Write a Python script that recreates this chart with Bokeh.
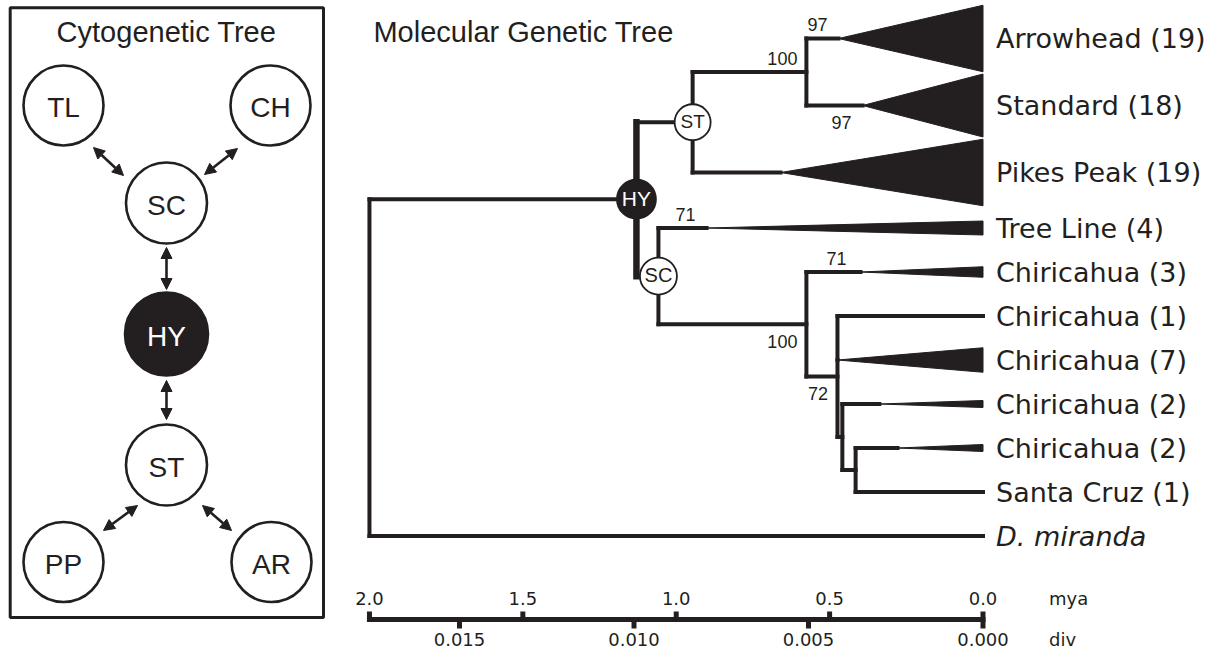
from bokeh.plotting import figure
from bokeh.models import Range1d, ColumnDataSource, Arrow, NormalHead
from bokeh.layouts import row
from bokeh.embed import file_html
from bokeh.resources import INLINE
from bokeh.core.properties import value

# ======================= DATA =======================
# --- Cytogenetic tree (left panel) ---
cyto_nodes = ["TL", "CH", "SC", "HY", "ST", "PP", "AR"]
cyto_links = [("TL", "SC"), ("CH", "SC"), ("SC", "HY"), ("HY", "ST"), ("ST", "PP"), ("ST", "AR")]
cyto_ancestral = "HY"

# --- Molecular genetic tree (right panel), tips from top to bottom ---
tip_names = ["Arrowhead (19)", "Standard (18)", "Pikes Peak (19)", "Tree Line (4)",
             "Chiricahua (3)", "Chiricahua (1)", "Chiricahua (7)", "Chiricahua (2)",
             "Chiricahua (2)", "Santa Cruz (1)", "D. miranda"]
tip_counts = [19, 18, 19, 4, 3, 1, 7, 2, 2, 1, 1]
# divergence at which each collapsed clade starts (0 = single haplotype)
tip_clade_div = [0.00414, 0.00345, 0.00580, 0.00792, 0.00351, 0.0, 0.00417, 0.00297, 0.00245, 0.0, 0.0]

node_names = ["root", "HY", "ST", "AS", "SC", "CH", "N2", "N3", "N4"]
node_div = [0.01758, 0.00993, 0.00832, 0.00506, 0.00930, 0.00506, 0.00417, 0.00403, 0.00365]
node_children = [["HY", 10], ["ST", "SC"], ["AS", 2], [0, 1], [3, "CH"], [4, "N2"],
                 [5, 6, "N3"], [7, "N4"], [8, 9]]

# bootstrap support on the branch leading to ...
boot_branch = [0, 1, "AS", 3, 4, "CH", "N2"]
boot_value = [97, 97, 100, 71, 71, 100, 72]

marked_nodes = ["HY", "ST", "SC"]

mya_ticks = [2.0, 1.5, 1.0, 0.5, 0.0]
div_ticks = [0.015, 0.010, 0.005, 0.000]
div_per_mya = 0.00879

# ======================= LAYOUT / STYLE =======================
INK = "#231f20"
SANS = value("Liberation Sans")
WIDE = value("DejaVu Sans")
H = 654
W_LEFT, W_RIGHT = 348, 866
TXT = -8          # correction for the text baseline as rendered

# left panel positions (page pixels)
cyto_x = {"TL": 63, "CH": 270, "SC": 166, "HY": 166, "ST": 166, "PP": 63, "AR": 271}
cyto_y = {"TL": 105, "CH": 105, "SC": 202.5, "HY": 333.5, "ST": 464.5, "PP": 561.5, "AR": 561.5}
cyto_r = {"TL": 40, "CH": 40, "SC": 40.5, "HY": 41.5, "ST": 40.5, "PP": 40, "AR": 40}
arrow_pts = {("TL", "SC"): (93, 147, 123, 175), ("CH", "SC"): (237, 148, 204, 174),
             ("SC", "HY"): (166, 247, 166, 289), ("HY", "ST"): (166, 380, 166, 419),
             ("ST", "PP"): (137, 505, 103, 530), ("ST", "AR"): (202, 505, 231, 530)}

# right panel scale
PX_PER_DIV = 34900.0
ZERO_PX = 982.5 - W_LEFT      # x pixel of divergence 0 inside the right figure
TOP_ROW, BIG_SLOT, SMALL_SLOT = 38, 67, 44
PX_PER_SEQ = 3.5
BAR_Y = 619

# ======================= LEFT FIGURE =======================
pl = figure(width=W_LEFT, height=H, x_range=Range1d(0, W_LEFT), y_range=Range1d(H, 0),
            output_backend="svg", toolbar_location=None, min_border=0,
            x_axis_type=None, y_axis_type=None)
pl.outline_line_color = None
pl.background_fill_color = "white"
pl.border_fill_color = "white"

pl.quad(left=[9.7], right=[323], top=[7.3], bottom=[617], fill_color=None,
        line_color=INK, line_width=3)
pl.text(x=[166], y=[39.5], text=["Cytogenetic Tree"], text_align="center", y_offset=TXT,
        text_baseline="alphabetic", text_font=SANS, text_font_size="29px", text_color=INK)

for a, b in cyto_links:
    x0, y0, x1, y1 = arrow_pts[(a, b)]
    pl.add_layout(Arrow(x_start=x0, y_start=y0, x_end=x1, y_end=y1,
                        line_color=INK, line_width=2.6,
                        start=NormalHead(size=11, fill_color=INK, line_color=INK, line_width=1),
                        end=NormalHead(size=11, fill_color=INK, line_color=INK, line_width=1)))

csrc = ColumnDataSource(dict(
    x=[cyto_x[n] for n in cyto_nodes], y=[cyto_y[n] for n in cyto_nodes],
    s=[2 * cyto_r[n] for n in cyto_nodes], t=cyto_nodes,
    fill=[INK if n == cyto_ancestral else "white" for n in cyto_nodes],
    tc=["white" if n == cyto_ancestral else INK for n in cyto_nodes]))
pl.scatter("x", "y", size="s", source=csrc, marker="circle", fill_color="fill",
           line_color=INK, line_width=2.6)
pl.text("x", "y", text="t", source=csrc, text_align="center", text_baseline="alphabetic",
        y_offset=10 + TXT, text_font=SANS, text_font_size="28px", text_color="tc")

# ======================= RIGHT FIGURE =======================
x_start = ZERO_PX / PX_PER_DIV
x_end = -(W_RIGHT - ZERO_PX) / PX_PER_DIV
pr = figure(width=W_RIGHT, height=H, x_range=Range1d(x_start, x_end), y_range=Range1d(H, 0),
            output_backend="svg", toolbar_location=None, min_border=0,
            x_axis_type=None, y_axis_type=None)
pr.outline_line_color = None
pr.background_fill_color = "white"
pr.border_fill_color = "white"

# tip rows
tip_y = []
prev = None
for n in tip_counts:
    slot = BIG_SLOT if n >= 18 else SMALL_SLOT
    tip_y.append(TOP_ROW if prev is None else tip_y[-1] + (prev + slot) / 2)
    prev = slot

nidx = {nm: i for i, nm in enumerate(node_names)}
node_y = {}


def get_y(c):
    if isinstance(c, int):
        return tip_y[c]
    if c not in node_y:
        ys = [get_y(k) for k in node_children[nidx[c]]]
        node_y[c] = (min(ys) + max(ys)) / 2
    return node_y[c]


def get_x(c):
    if isinstance(c, int):
        return tip_clade_div[c]
    return node_div[nidx[c]]


parent_of = {}
seg = dict(x0=[], y0=[], x1=[], y1=[], w=[])
for nm, kids in zip(node_names, node_children):
    nx = node_div[nidx[nm]]
    ys = [get_y(k) for k in kids]
    seg["x0"].append(nx); seg["x1"].append(nx)
    seg["y0"].append(min(ys)); seg["y1"].append(max(ys))
    seg["w"].append(6.5 if nm == "HY" else 4)
    for k in kids:
        parent_of[k] = nm
        kx = get_x(k)
        seg["x0"].append(nx); seg["x1"].append(kx)
        seg["y0"].append(get_y(k)); seg["y1"].append(get_y(k))
        seg["w"].append(4)

pr.segment("x0", "y0", "x1", "y1", source=ColumnDataSource(seg), line_color=INK,
           line_width="w", line_cap="square")

# collapsed clades
txs, tys = [], []
for i, n in enumerate(tip_counts):
    if n > 1:
        h = PX_PER_SEQ * n
        txs.append([tip_clade_div[i], 0.0, 0.0])
        tys.append([tip_y[i], tip_y[i] - h / 2, tip_y[i] + h / 2])
pr.patches(txs, tys, fill_color=INK, line_color=INK, line_width=1)

# single-haplotype tips: line to 0
single = [i for i, n in enumerate(tip_counts) if n == 1]
pr.segment(x0=[get_x(parent_of[i]) for i in single], y0=[tip_y[i] for i in single],
           x1=[0.0] * len(single), y1=[tip_y[i] for i in single],
           line_color=INK, line_width=4, line_cap="butt")

# tip labels
reg = [i for i in range(len(tip_names)) if not tip_names[i].startswith("D.")]
itl = [i for i in range(len(tip_names)) if tip_names[i].startswith("D.")]
pr.text(x=[0.0] * len(reg), y=[tip_y[i] for i in reg], text=[tip_names[i] for i in reg],
        x_offset=13, y_offset=8 + TXT, text_baseline="alphabetic", text_font=WIDE,
        text_font_size="27px", text_color=INK)
pr.text(x=[0.0] * len(itl), y=[tip_y[i] for i in itl], text=[tip_names[i] for i in itl],
        x_offset=13, y_offset=8 + TXT, text_baseline="alphabetic", text_font=WIDE,
        text_font_style="italic", text_font_size="27px", text_color=INK)

# bootstrap labels: (anchor, dx px, side, align)
boot_place = [("parent", 1, "above", "left"), ("parent", 25, "below", "left"),
              ("child", -9, "above", "right"), ("parent", 17, "above", "left"),
              ("parent", 20, "above", "left"), ("child", -9, "below", "right"),
              ("parent", 1.5, "below", "left")]
for align in ("left", "right"):
    bx, by, bt, bo, bdy = [], [], [], [], []
    for br, v, (anc, dx, side, al) in zip(boot_branch, boot_value, boot_place):
        if al != align:
            continue
        ref = parent_of[br] if anc == "parent" else br
        bx.append(get_x(ref)); by.append(get_y(br)); bt.append(str(v))
        bo.append(dx); bdy.append((-6 if side == "above" else 25) + TXT)
    pr.text(x="x", y="y", text="t", x_offset="o", y_offset="dy",
            source=ColumnDataSource(dict(x=bx, y=by, t=bt, o=bo, dy=bdy)),
            text_align=align, text_baseline="alphabetic", text_font=SANS,
            text_font_size="18px", text_color=INK)

# marked ancestral nodes
mr = {"HY": 39, "ST": 36, "SC": 37}
ms = {"HY": "21px", "ST": "19px", "SC": "20px"}
msrc = ColumnDataSource(dict(
    x=[node_div[nidx[m]] for m in marked_nodes], y=[get_y(m) for m in marked_nodes],
    s=[mr[m] for m in marked_nodes], t=marked_nodes,
    fill=[INK if m == "HY" else "white" for m in marked_nodes]))
pr.scatter("x", "y", size="s", source=msrc, marker="circle", fill_color="fill",
           line_color=INK, line_width=1.8)
for m in marked_nodes:
    pr.text(x=[node_div[nidx[m]]], y=[get_y(m)], text=[m], text_align="center",
            text_baseline="alphabetic", y_offset=7 + TXT, text_font=SANS, text_font_size=ms[m],
            text_color="white" if m == "HY" else INK)

# title
pr.text(x=[node_div[0]], y=[39.5], text=["Molecular Genetic Tree"], x_offset=4, y_offset=TXT,
        text_baseline="alphabetic", text_font=SANS, text_font_size="29px", text_color=INK)

# scale bar
bar_left = max(mya_ticks) * div_per_mya
pr.segment(x0=[bar_left], y0=[BAR_Y], x1=[0.0], y1=[BAR_Y], line_color=INK, line_width=5,
           line_cap="square")
mx = [m * div_per_mya for m in mya_ticks]
pr.segment(x0=mx, y0=[BAR_Y - 8] * len(mx), x1=mx, y1=[BAR_Y] * len(mx),
           line_color=INK, line_width=5, line_cap="butt")
pr.segment(x0=div_ticks, y0=[BAR_Y] * len(div_ticks), x1=div_ticks,
           y1=[BAR_Y + 9] * len(div_ticks), line_color=INK, line_width=5, line_cap="butt")
pr.text(x=mx, y=[BAR_Y - 13] * len(mx), text=["%.1f" % m for m in mya_ticks], y_offset=TXT,
        text_align="center", text_baseline="alphabetic", text_font=WIDE,
        text_font_size="18px", text_color=INK)
pr.text(x=div_ticks, y=[BAR_Y + 28] * len(div_ticks), text=["%.3f" % d for d in div_ticks],
        y_offset=TXT, text_align="center", text_baseline="alphabetic", text_font=WIDE,
        text_font_size="18px", text_color=INK)
pr.text(x=[0.0, 0.0], y=[BAR_Y - 13, BAR_Y + 28], text=["mya", "div"], x_offset=66,
        y_offset=TXT, text_baseline="alphabetic", text_font=WIDE, text_font_size="18px",
        text_color=INK)

layout = row(pl, pr)
open("out.html", "w").write(file_html(layout, INLINE))
